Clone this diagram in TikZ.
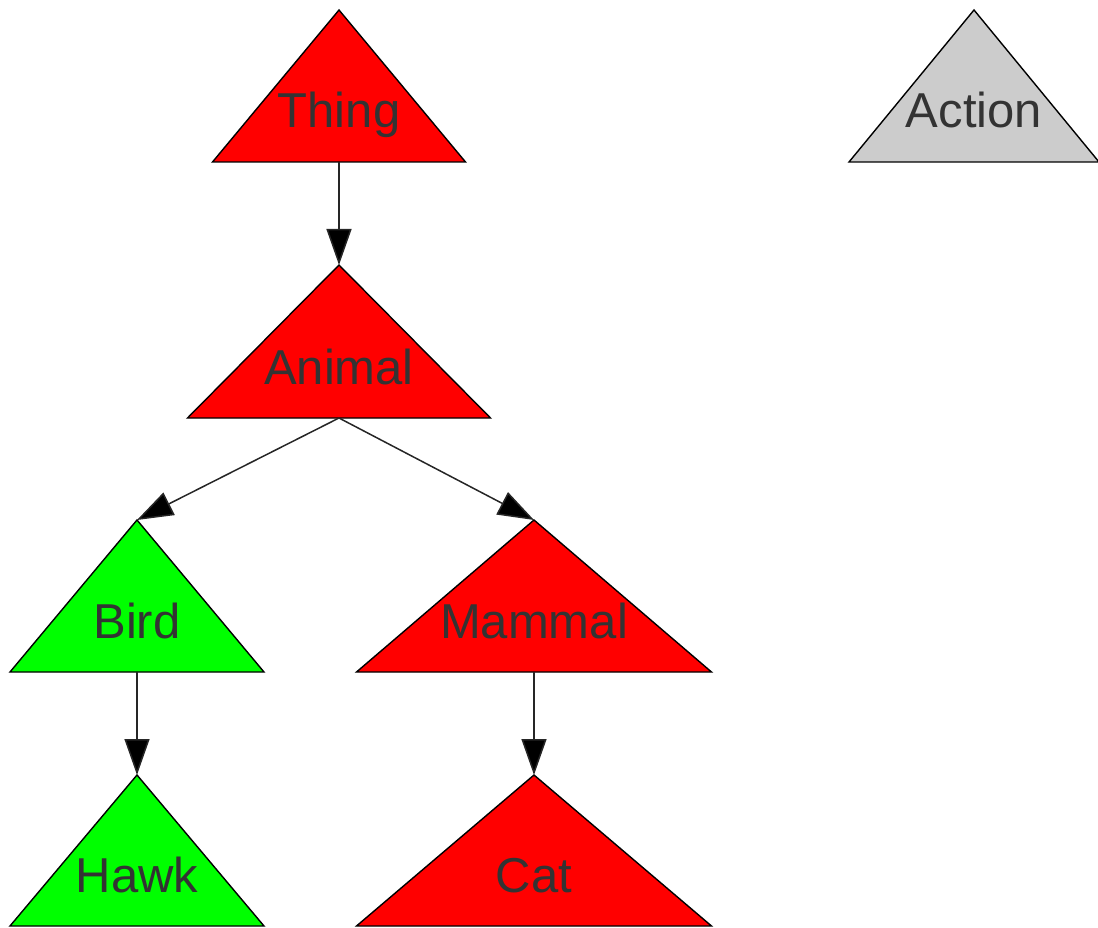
\documentclass[tikz,border=0pt]{standalone}
\usepackage{fontspec}
\setmainfont{Liberation Sans}
\usetikzlibrary{arrows.meta}
\definecolor{txt}{HTML}{333333}
\definecolor{redfill}{HTML}{FF0000}
\definecolor{greenfill}{HTML}{00FF00}
\definecolor{grayfill}{HTML}{CCCCCC}
\tikzset{
  tri/.style={draw=black, line width=1.4pt, line join=miter},
  lbl/.style={text=txt, font=\fontsize{49}{52}\selectfont, anchor=base, inner sep=0pt},
  conn/.style={draw=black!85, line width=1.5pt, -{Triangle[length=36pt, width=25pt, fill=black]}}
}
% name, cx, apex y, base y, half width, fill, label
\newcommand{\mytri}[7]{%
  \coordinate (#1-top) at (#2,#3);
  \coordinate (#1-bot) at (#2,#4);
  \fill[#6] (#2-#5,#4) -- (#1-top) -- (#2+#5,#4) -- cycle;
  \draw[tri] (#2-#5,#4) -- (#1-top) -- (#2+#5,#4) -- cycle;
  \node[lbl] (#1) at (#2,#4-34) {#7};
}
\begin{document}
\begin{tikzpicture}[x=1pt,y=-1pt]
\useasboundingbox (0,0) rectangle (1098,928);
\mytri{thing}{339}{10}{162}{126.5}{redfill}{Thing}
\mytri{action}{974}{10}{162}{125}{grayfill}{Action}
\mytri{animal}{339}{265}{418}{151.5}{redfill}{Animal}
\mytri{bird}{137}{520}{672}{127}{greenfill}{Bird}
\mytri{mammal}{534}{520}{672}{177.5}{redfill}{Mammal}
\mytri{hawk}{137}{775}{926}{127}{greenfill}{Hawk}
\mytri{cat}{534}{775}{926}{177.5}{redfill}{Cat}
\draw[conn] (thing-bot) -- (animal-top);
\draw[conn] (animal-bot) -- (bird-top);
\draw[conn] (animal-bot) -- (mammal-top);
\draw[conn] (bird-bot) -- (hawk-top);
\draw[conn] (mammal-bot) -- (cat-top);
\end{tikzpicture}
\end{document}
